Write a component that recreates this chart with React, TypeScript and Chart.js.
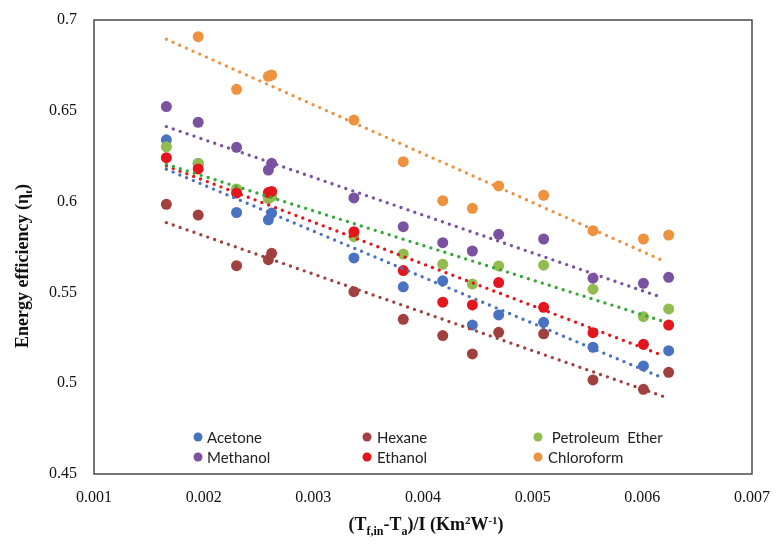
import React, { useEffect, useRef } from 'react';
import { Chart, registerables } from 'chart.js';

Chart.register(...registerables);

// x positions of the measurements, (Tf,in - Ta)/I
const xValues = [0.00166, 0.00195, 0.0023, 0.00259, 0.00262, 0.00337, 0.00382, 0.00418, 0.00445, 0.00469, 0.0051, 0.00555, 0.00601, 0.00624];

const seriesNames = ['Acetone', 'Hexane', 'Petroleum  Ether', 'Methanol', 'Ethanol', 'Chloroform'];

const acetone = [0.634, 0.621, 0.594, 0.59, 0.5937, 0.569, 0.5531, 0.5564, 0.532, 0.5376, 0.5335, 0.5198, 0.5095, 0.5179];
const hexane = [0.5985, 0.5926, 0.5647, 0.568, 0.5715, 0.5504, 0.5352, 0.5262, 0.5161, 0.528, 0.5272, 0.5018, 0.4966, 0.506];
const petroleumEther = [0.6302, 0.621, 0.607, 0.6017, 0.6027, 0.5807, 0.5711, 0.5655, 0.5546, 0.5646, 0.565, 0.5518, 0.5366, 0.5409];
const methanol = [0.6523, 0.6437, 0.6299, 0.6174, 0.6211, 0.602, 0.5862, 0.5774, 0.5728, 0.582, 0.5794, 0.5578, 0.555, 0.5583];
const ethanol = [0.6242, 0.618, 0.6047, 0.605, 0.6056, 0.5834, 0.562, 0.5446, 0.5431, 0.5554, 0.5418, 0.5278, 0.5214, 0.532];
const chloroform = [null, 0.6908, 0.6618, 0.669, 0.6697, 0.6449, 0.622, 0.6005, 0.5963, 0.6086, 0.6035, 0.584, 0.5794, 0.5816];

// dotted linear trend lines (start / end)
const trendStartX = [0.00166, 0.00166, 0.00166, 0.00166, 0.00166, 0.00166];
const trendEndX = [0.00619, 0.00624, 0.0062, 0.00616, 0.00616, 0.00621];
const trendStart = [0.6178, 0.5884, 0.6205, 0.6413, 0.6196, 0.6894];
const trendEnd = [0.5028, 0.4917, 0.5339, 0.5476, 0.5159, 0.5669];

const xTicks = [0.001, 0.002, 0.003, 0.004, 0.005, 0.006, 0.007];
const yTicks = [0.45, 0.5, 0.55, 0.6, 0.65, 0.7];

const pointColors = ['#4A72C2', '#A0413F', '#92BB50', '#7A52A0', '#E2161C', '#EE9240'];
const trendColors = ['#4A72C2', '#A0413F', '#36A83A', '#7A52A0', '#E2161C', '#EE9240'];

const seriesValues = [acetone, hexane, petroleumEther, methanol, ethanol, chloroform];

type Seg = { t: string; s: number; dy?: number };

function drawRich(ctx: CanvasRenderingContext2D, segs: Seg[], cx: number, cy: number, family: string) {
  let w = 0;
  for (const g of segs) {
    ctx.font = `bold ${g.s}px ${family}`;
    w += ctx.measureText(g.t).width;
  }
  let x = cx - w / 2;
  ctx.textBaseline = 'alphabetic';
  ctx.textAlign = 'left';
  for (const g of segs) {
    ctx.font = `bold ${g.s}px ${family}`;
    ctx.fillText(g.t, x, cy + (g.dy || 0));
    x += ctx.measureText(g.t).width;
  }
}

const decorPlugin = {
  id: 'decor',
  beforeDatasetsDraw(chart: any) {
    const { ctx, chartArea } = chart;
    ctx.save();
    ctx.strokeStyle = '#4a4a4a';
    ctx.lineWidth = 1.5;
    ctx.strokeRect(chartArea.left, chartArea.top, chartArea.right - chartArea.left, chartArea.bottom - chartArea.top);
    ctx.restore();
  },
  afterDatasetsDraw(chart: any) {
    const { ctx } = chart;
    ctx.save();
    // legend
    const colX = [198, 367, 538];
    const textX = [207, 377, 548];
    const rowY = [437, 457];
    ctx.font = '15px Lato';
    ctx.textBaseline = 'middle';
    ctx.textAlign = 'left';
    seriesNames.forEach((name, i) => {
      const c = i % 3;
      const r = Math.floor(i / 3);
      ctx.fillStyle = pointColors[i];
      ctx.beginPath();
      ctx.arc(colX[c], rowY[r], 4.5, 0, Math.PI * 2);
      ctx.fill();
      ctx.fillStyle = '#222';
      ctx.fillText((c === 2 && r === 0 ? ' ' : '') + name, textX[c], rowY[r] + 1);
    });
    ctx.fillStyle = '#111';
    const fam = '"Liberation Serif", serif';
    // x title
    drawRich(ctx, [
      { t: '(T', s: 18 },
      { t: 'f,in', s: 12, dy: 5 },
      { t: '-T', s: 18 },
      { t: 'a', s: 12, dy: 5 },
      { t: ')/I (Km', s: 18 },
      { t: '2', s: 11, dy: -6 },
      { t: 'W', s: 18 },
      { t: '-1', s: 11, dy: -6 },
      { t: ')', s: 18 },
    ], 426, 530, fam);
    // y title
    ctx.translate(28, 266);
    ctx.rotate(-Math.PI / 2);
    drawRich(ctx, [
      { t: 'Energy efficiency (η', s: 18 },
      { t: 't', s: 11, dy: 4 },
      { t: ')', s: 18 },
    ], 0, 0, fam);
    ctx.restore();
  },
};

export default function App() {
  const ref = useRef<HTMLCanvasElement | null>(null);

  useEffect(() => {
    document.body.style.margin = '0';
    const canvas = ref.current;
    if (!canvas) return;

    const pointSets = seriesValues.map((vals, i) => ({
      type: 'scatter' as const,
      label: seriesNames[i],
      data: xValues
        .map((x, j) => ({ x, y: vals[j] }))
        .filter((p) => p.y !== null),
      backgroundColor: pointColors[i],
      borderColor: pointColors[i],
      pointRadius: 5.5,
      pointBorderWidth: 0,
      showLine: false,
      order: 10 - i,
    }));

    const trendSets = seriesValues.map((_, i) => ({
      type: 'scatter' as const,
      label: seriesNames[i] + ' trend',
      data: [
        { x: trendStartX[i], y: trendStart[i] },
        { x: trendEndX[i], y: trendEnd[i] },
      ],
      borderColor: trendColors[i],
      backgroundColor: trendColors[i],
      borderWidth: 3.4,
      borderDash: [0, 7.3],
      borderCapStyle: 'round' as const,
      pointRadius: 0,
      showLine: true,
      order: 1,
    }));

    const chart = new Chart(canvas, {
      type: 'scatter',
      data: { datasets: [...pointSets, ...trendSets] as any },
      options: {
        animation: false,
        responsive: false,
        devicePixelRatio: 1,
        layout: { padding: { left: 0, top: 20, right: 24, bottom: 0 } },
        plugins: { legend: { display: false }, tooltip: { enabled: false } },
        scales: {
          x: {
            type: 'linear',
            min: 0.001,
            max: 0.007,
            afterBuildTicks: (scale: any) => {
              scale.ticks = xTicks.map((v) => ({ value: v }));
            },
            afterFit: (scale: any) => {
              scale.height = 71;
              scale.paddingLeft = 0;
              scale.paddingRight = 0;
            },
            grid: { display: false, drawTicks: false },
            border: { display: false },
            ticks: {
              padding: 14,
              color: '#111',
              font: { family: '"Liberation Serif", serif', size: 16 },
              callback: (v: any) => String(parseFloat(Number(v).toFixed(3))),
            },
          },
          y: {
            type: 'linear',
            min: 0.45,
            max: 0.7,
            afterBuildTicks: (scale: any) => {
              scale.ticks = yTicks.map((v) => ({ value: v }));
            },
            afterFit: (scale: any) => {
              scale.width = 94;
              scale.paddingTop = 0;
              scale.paddingBottom = 0;
            },
            grid: { display: false, drawTicks: false },
            border: { display: false },
            ticks: {
              padding: 17,
              color: '#111',
              font: { family: '"Liberation Serif", serif', size: 16 },
              callback: (v: any) => String(parseFloat(Number(v).toFixed(2))),
            },
          },
        },
      },
      plugins: [decorPlugin],
    });

    return () => chart.destroy();
  }, []);

  return (
    <canvas
      ref={ref}
      width={776}
      height={545}
      style={{ position: 'absolute', left: 0, top: 0, width: 776, height: 545 }}
    />
  );
}
